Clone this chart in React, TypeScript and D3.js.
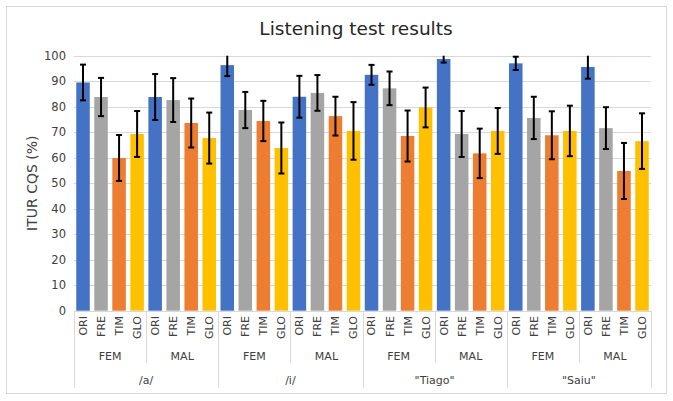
import { useRef, useEffect } from 'react'
import * as d3 from 'd3'

// category levels
const groups = ['/a/', '/i/', '"Tiago"', '"Saiu"']
const genders = ['FEM', 'MAL']
const methods = ['ORI', 'FRE', 'TIM', 'GLO']
const methodColors = ['#4472C4', '#A5A5A5', '#ED7D31', '#FFC000']
const yTicks = [0, 10, 20, 30, 40, 50, 60, 70, 80, 90, 100]

// mean score per subgroup (/a/ FEM, /a/ MAL, /i/ FEM, ...)
const oriMean = [89.5, 83.8, 96.3, 83.9, 92.5, 98.7, 97.0, 95.6]
const freMean = [83.8, 82.6, 78.7, 85.4, 87.2, 69.3, 75.6, 71.6]
const timMean = [59.9, 73.6, 74.4, 76.3, 68.5, 61.7, 68.8, 54.8]
const gloMean = [69.3, 67.7, 63.8, 70.5, 79.7, 70.5, 70.5, 66.5]

// error bar half-widths
const oriErr = [7.0, 9.0, 4.3, 8.2, 3.9, 1.4, 2.6, 4.6]
const freErr = [7.5, 8.6, 7.1, 7.0, 6.6, 9.0, 8.3, 8.2]
const timErr = [9.0, 9.6, 7.9, 7.6, 10.0, 9.7, 9.4, 11.0]
const gloErr = [9.0, 10.0, 10.0, 11.3, 7.8, 9.0, 9.9, 10.9]

const means = [oriMean, freMean, timMean, gloMean]
const errs = [oriErr, freErr, timErr, gloErr]

interface Bar {
  key: string
  method: number
  value: number
  err: number
}

export default function App() {
  const svgRef = useRef<SVGSVGElement>(null)

  useEffect(() => {
    if (!svgRef.current) return
    const svg = d3.select(svgRef.current)
    svg.selectAll('*').remove()

    const font = 'DejaVu Sans, sans-serif'
    const left = 74
    const right = 651
    const top = 55.7
    const bottom = 310.7

    // flatten into 32 bars
    const bars: Bar[] = []
    groups.forEach((g, gi) => {
      genders.forEach((s, si) => {
        const sub = gi * 2 + si
        methods.forEach((m, mi) => {
          bars.push({ key: `${g}|${s}|${m}`, method: mi, value: means[mi][sub], err: errs[mi][sub] })
        })
      })
    })

    const x = d3.scaleBand<string>()
      .domain(bars.map(d => d.key))
      .range([left, right])
      .paddingInner(0.25)
      .paddingOuter(0.125)

    const y = d3.scaleLinear().domain([0, 100]).range([bottom, top])

    // chart area border
    svg.append('rect')
      .attr('x', 6.5).attr('y', 6.5)
      .attr('width', 660).attr('height', 387)
      .attr('fill', '#fff')
      .attr('stroke', '#d9d9d9')

    // title
    svg.append('text')
      .attr('x', 356).attr('y', 35)
      .attr('text-anchor', 'middle')
      .attr('font-family', font)
      .attr('font-size', '18.5px')
      .attr('fill', '#262626')
      .text('Listening test results')

    // gridlines + y labels
    const grid = svg.append('g')
    grid.selectAll('line')
      .data(yTicks)
      .enter()
      .append('line')
      .attr('x1', left).attr('x2', right)
      .attr('y1', d => Math.round(y(d)) + 0.5)
      .attr('y2', d => Math.round(y(d)) + 0.5)
      .attr('stroke', '#d9d9d9')
      .attr('stroke-width', 1.2)

    grid.selectAll('text')
      .data(yTicks)
      .enter()
      .append('text')
      .attr('x', 66)
      .attr('y', d => y(d))
      .attr('dy', '0.36em')
      .attr('text-anchor', 'end')
      .attr('font-family', font)
      .attr('font-size', '11.5px')
      .attr('fill', '#404040')
      .text(d => d)

    // y axis title
    svg.append('text')
      .attr('transform', `translate(37,${(top + bottom) / 2}) rotate(-90)`)
      .attr('text-anchor', 'middle')
      .attr('font-family', font)
      .attr('font-size', '14px')
      .attr('fill', '#404040')
      .text('ITUR CQS (%)')

    // bars
    svg.append('g')
      .selectAll('rect')
      .data(bars)
      .enter()
      .append('rect')
      .attr('x', d => x(d.key) ?? 0)
      .attr('y', d => y(d.value))
      .attr('width', x.bandwidth())
      .attr('height', d => y(0) - y(d.value))
      .attr('fill', d => methodColors[d.method])

    // error bars; anything past the axis max is cut off (no cap)
    const eb = svg.append('g')
      .attr('stroke', '#000')
      .attr('stroke-width', 2)

    bars.forEach(d => {
      const cx = (x(d.key) ?? 0) + x.bandwidth() / 2
      const over = d.value + d.err > 100
      const hi = y(Math.min(100, d.value + d.err))
      const lo = y(d.value - d.err)
      eb.append('line').attr('x1', cx).attr('x2', cx).attr('y1', hi).attr('y2', lo)
      if (!over) {
        eb.append('line').attr('x1', cx - 3).attr('x2', cx + 3).attr('y1', hi).attr('y2', hi)
      }
      eb.append('line').attr('x1', cx - 3).attr('x2', cx + 3).attr('y1', lo).attr('y2', lo)
    })

    // multi-level category axis
    const axis = svg.append('g')
    const subW = (right - left) / (groups.length * genders.length)

    d3.range(groups.length * genders.length + 1).forEach(k => {
      const xx = Math.round(left + k * subW) + 0.5
      axis.append('line')
        .attr('x1', xx).attr('x2', xx)
        .attr('y1', bottom)
        .attr('y2', k % 2 === 0 ? 388 : 363)
        .attr('stroke', '#d9d9d9')
    })

    axis.selectAll('text.method')
      .data(bars)
      .enter()
      .append('text')
      .attr('class', 'method')
      .attr('transform', d => `translate(${(x(d.key) ?? 0) + x.bandwidth() / 2},316) rotate(-90)`)
      .attr('dy', '0.36em')
      .attr('text-anchor', 'end')
      .attr('font-family', font)
      .attr('font-size', '11px')
      .attr('fill', '#404040')
      .text(d => methods[d.method])

    groups.forEach((g, gi) => {
      genders.forEach((s, si) => {
        axis.append('text')
          .attr('x', left + (gi * 2 + si + 0.5) * subW)
          .attr('y', 360)
          .attr('text-anchor', 'middle')
          .attr('font-family', font)
          .attr('font-size', '11px')
          .attr('fill', '#404040')
          .text(s)
      })
      axis.append('text')
        .attr('x', left + (gi * 2 + 1) * subW)
        .attr('y', 384)
        .attr('text-anchor', 'middle')
        .attr('font-family', font)
        .attr('font-size', '11px')
        .attr('fill', '#404040')
        .text(g)
    })
  }, [])

  return (
    <svg
      ref={svgRef}
      width={673}
      height={401}
      style={{ position: 'absolute', left: 0, top: 0, background: '#fff' }}
    />
  )
}
